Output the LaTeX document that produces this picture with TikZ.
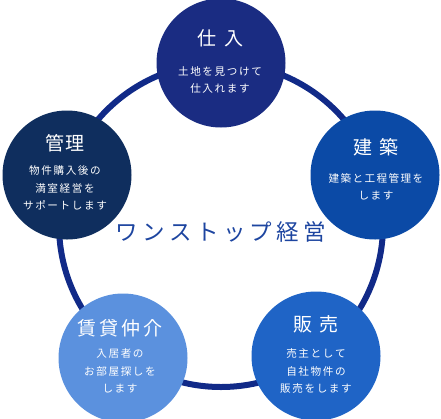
\documentclass[tikz,border=0pt]{standalone}
\usepackage{fontspec}
\newfontfamily\jpf{Noto Sans CJK JP}
\makeatletter
\newcommand\spc[2]{\def\spc@g{#1}\@tfor\spc@c:=#2\do{\spc@c\hspace{\spc@g}}\unskip}
\makeatother
\definecolor{ringc}{HTML}{112A88}
\definecolor{cA}{HTML}{1A2C82}
\definecolor{cB}{HTML}{0B4AA6}
\definecolor{cC}{HTML}{0F2E5E}
\definecolor{cD}{HTML}{1F64C6}
\definecolor{cE}{HTML}{5B91DE}
\definecolor{midc}{HTML}{1D45A0}
\tikzset{
  bub/.style={circle, draw=none, minimum size=129pt, inner sep=0pt},
  ttl/.style={text=white, font=\jpf\fontsize{19}{21}\selectfont, inner sep=0pt},
  sub/.style={text=white, font=\jpf\fontsize{10.6}{17.5}\selectfont, align=center, inner sep=0pt},
}
\begin{document}
\begin{tikzpicture}[x=1pt,y=-1pt]
\useasboundingbox (0,0) rectangle (441,418);
\draw[ringc, line width=6pt] (221,225) circle (162);
\node[bub, fill=cA] (a) at (221,63) {};
\node[bub, fill=cB] (b) at (375,175) {};
\node[bub, fill=cC] (c) at (67,175) {};
\node[bub, fill=cD] (d) at (316,356) {};
\node[bub, fill=cE] (e) at (123,358) {};
% top
\node[ttl] (at) at (220,38) {\spc{8pt}{仕入}};
\node[sub] (as) at (220,80) {\spc{1.6pt}{土地を見つけて}\\\spc{1.6pt}{仕入れます}};
% right
\node[ttl] (bt) at (376,147) {\spc{7pt}{建築}};
\node[sub] (bs) at (376,187) {\spc{1.4pt}{建築と工程管理を}\\\spc{1.6pt}{します}};
% left
\node[ttl] (ct) at (65,143) {\spc{2pt}{管理}};
\node[sub] (cs) at (65,188) {\spc{1.6pt}{物件購入後の}\\\spc{1.6pt}{満室経営を}\\\spc{1.6pt}{サポートします}};
% bottom right
\node[ttl] (dt) at (316,324) {\spc{7pt}{販売}};
\node[sub] (ds) at (316,371) {\spc{1.6pt}{売主として}\\\spc{1.6pt}{自社物件の}\\\spc{1.6pt}{販売をします}};
% bottom left
\node[ttl] (et) at (120,328) {\spc{3pt}{賃貸仲介}};
\node[sub] (es) at (120,371) {\spc{1.6pt}{入居者の}\\\spc{1.6pt}{お部屋探しを}\\\spc{1.6pt}{します}};
% center
\node[text=midc, font=\jpf\fontsize{22.5}{24}\selectfont, inner sep=0pt] (m) at (221,232) {\spc{4.3pt}{ワンストップ経営}};
\end{tikzpicture}
\end{document}
